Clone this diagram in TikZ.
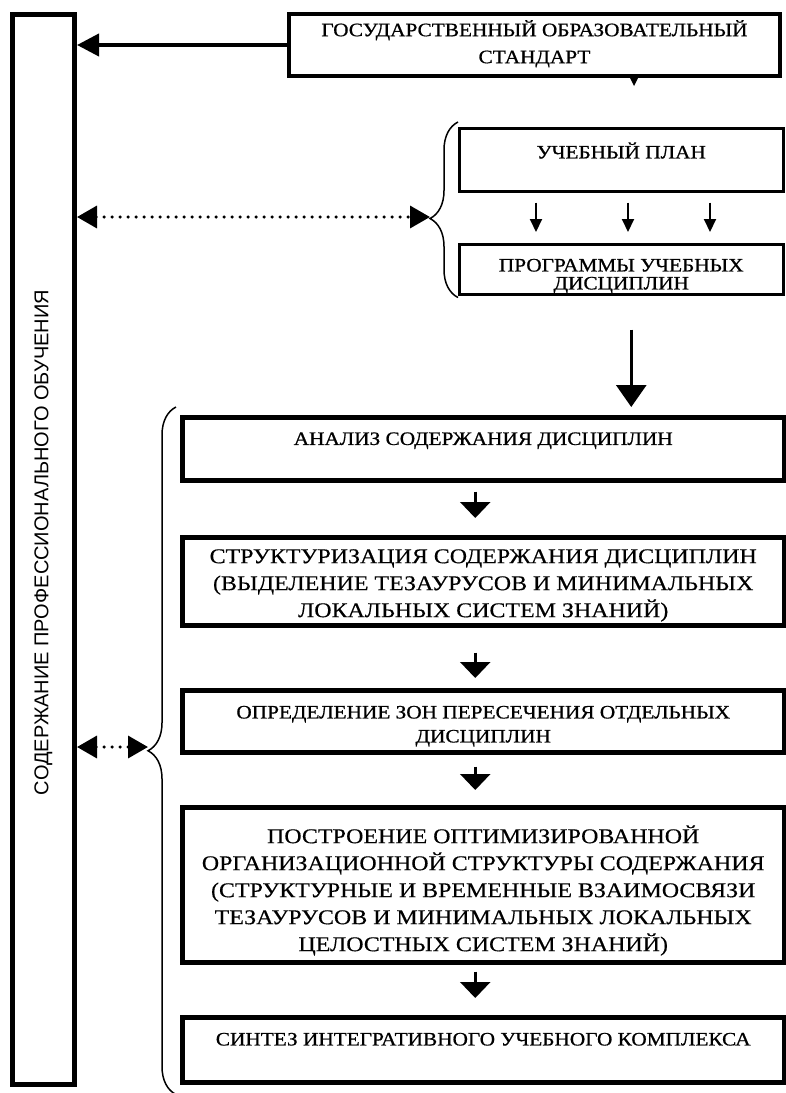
\documentclass[tikz,border=0pt]{standalone}
\usepackage{fontspec}
\setmainfont{Liberation Serif}
\setsansfont{Liberation Sans}
\newfontfamily\smallfam[FakeStretch=1.12,FakeBold=0.8]{Liberation Serif}
\newfontfamily\bigfam[FakeStretch=1.14,FakeBold=0.4]{Liberation Serif}
\usetikzlibrary{%
  arrows.meta,%
  decorations.pathreplacing,% brace
  calc
}
\newcommand{\smallfnt}{\smallfam\fontsize{19}{23}\selectfont}
\newcommand{\bigfnt}{\bigfam\fontsize{21}{27}\selectfont}
% struts for the first and the last line of a box
\newcommand{\upstrut}[1]{\rule{0pt}{#1}}
\newcommand{\dnstrut}[1]{\rule[-#1]{0pt}{#1}}

\begin{document}
\begin{tikzpicture}[
  x=1pt, y=-1pt,
  box/.style={draw, anchor=north west, align=center, inner sep=0pt, line width=4.5pt},
  thinbox/.style={box, line width=2.5pt},
  smalltxt/.style={font=\smallfnt},
  bigtxt/.style={font=\bigfnt},
  solidarr/.style={line width=4pt, -{Triangle[length=22pt,width=22pt]}},
  dotarr/.style={line width=3.5pt, line cap=round, dash pattern=on 0pt off 8pt,
    {Triangle[length=20pt,width=22pt]}-{Triangle[length=20pt,width=22pt]}},
  bigarr/.style={line width=3pt, -{Triangle[length=22pt,width=30pt]}},
  midarr/.style={line width=2.5pt, -{Triangle[length=16pt,width=30pt]}},
  tinyarr/.style={line width=2pt, -{Triangle[length=13pt,width=12pt]}},
  bracedeco/.style={decorate, line width=1.5pt}
]
\useasboundingbox (0,0) rectangle (786,1093);

\node[box, line width=5pt, minimum width=62pt, minimum height=1070pt] (content) at (10,12) {};
\node[rotate=90, font=\sffamily\fontsize{20}{24}\selectfont] (contenttxt) at ([yshift=7pt]content.center)
  {СОДЕРЖАНИЕ ПРОФЕССИОНАЛЬНОГО ОБУЧЕНИЯ};

\node[box, line width=4pt, smalltxt, minimum width=491pt, minimum height=62pt] (std) at (287,12)
  {\upstrut{20pt}ГОСУДАРСТВЕННЫЙ ОБРАЗОВАТЕЛЬНЫЙ\\[4pt] СТАНДАРТ\dnstrut{10.6pt}};
\node[thinbox, smalltxt, minimum width=324pt, minimum height=63pt] (plan) at (458,127)
  {\upstrut{20pt}УЧЕБНЫЙ ПЛАН\dnstrut{22.6pt}};
\node[thinbox, smalltxt, minimum width=324pt, minimum height=50pt] (prog) at (458,243)
  {\upstrut{26.6pt}ПРОГРАММЫ УЧЕБНЫХ\\[-5pt] ДИСЦИПЛИН\dnstrut{4.2pt}};

\node[box, smalltxt, minimum width=602pt, minimum height=63pt] (analiz) at (180,415)
  {\upstrut{20pt}АНАЛИЗ СОДЕРЖАНИЯ ДИСЦИПЛИН\dnstrut{27.6pt}};
\node[box, bigtxt, minimum width=602pt, minimum height=88pt] (struct) at (180,535)
  {\upstrut{25.5pt}СТРУКТУРИЗАЦИЯ СОДЕРЖАНИЯ ДИСЦИПЛИН\\ (ВЫДЕЛЕНИЕ ТЕЗАУРУСОВ И МИНИМАЛЬНЫХ\\
   ЛОКАЛЬНЫХ СИСТЕМ ЗНАНИЙ)\dnstrut{7.7pt}};
\node[box, smalltxt, minimum width=602pt, minimum height=62pt] (opred) at (180,688)
  {\upstrut{28pt}ОПРЕДЕЛЕНИЕ ЗОН ПЕРЕСЕЧЕНИЯ ОТДЕЛЬНЫХ\\[1pt] ДИСЦИПЛИН\dnstrut{9.6pt}};
\node[box, bigtxt, minimum width=602pt, minimum height=155pt] (postr) at (180,805)
  {\upstrut{32pt}ПОСТРОЕНИЕ ОПТИМИЗИРОВАННОЙ\\ ОРГАНИЗАЦИОННОЙ СТРУКТУРЫ СОДЕРЖАНИЯ\\
   (СТРУКТУРНЫЕ И ВРЕМЕННЫЕ ВЗАИМОСВЯЗИ\\ ТЕЗАУРУСОВ И МИНИМАЛЬНЫХ ЛОКАЛЬНЫХ\\
   ЦЕЛОСТНЫХ СИСТЕМ ЗНАНИЙ)\dnstrut{7.2pt}};
\node[box, smalltxt, minimum width=602pt, minimum height=65pt] (sintez) at (180,1015)
  {\upstrut{20pt}СИНТЕЗ ИНТЕГРАТИВНОГО УЧЕБНОГО КОМПЛЕКСА\dnstrut{28.6pt}};

\draw[solidarr] (std.west) -- (content.east |- std.west);
\fill ([xshift=99.5pt]std.south) ++(-4,0) -- ++(8,0) -- ++(-4,8) -- cycle;

% upper brace
\coordinate (tipA) at (430,217);
\draw[bracedeco, decoration={brace, amplitude=28pt, aspect=0.45}]
  ($(prog.south west)+(0,2)$) -- ($(plan.north west)+(0,-5)$);
\draw[dotarr] (content.east |- tipA) -- (tipA);
\foreach \dx in {78,170,252} {
  \draw[tinyarr] ([xshift=\dx pt, yshift=-10pt]plan.south west) -- ([xshift=\dx pt, yshift=11pt]prog.north west);
}

\coordinate (bigx) at ([xshift=10pt]prog.south);
\draw[bigarr, shorten <=34pt, shorten >=8pt] (bigx) -- (bigx |- analiz.north);

\foreach \a/\b/\s/\e in {analiz/struct/9/17, struct/opred/25/10, opred/postr/12/15, postr/sintez/7/17} {
  \draw[midarr, shorten <=\s pt, shorten >=\e pt] ([xshift=-8pt]\a.south) -- ([xshift=-8pt]\b.north);
}

% lower brace
\coordinate (tipB) at (148,747);
\draw[bracedeco, decoration={brace, amplitude=28pt, aspect=0.5}]
  ($(sintez.south west)+(-4,10)$) -- ($(analiz.north west)+(-4,-8)$);
\draw[dotarr] (content.east |- tipB) -- (tipB);

\end{tikzpicture}
\end{document}
